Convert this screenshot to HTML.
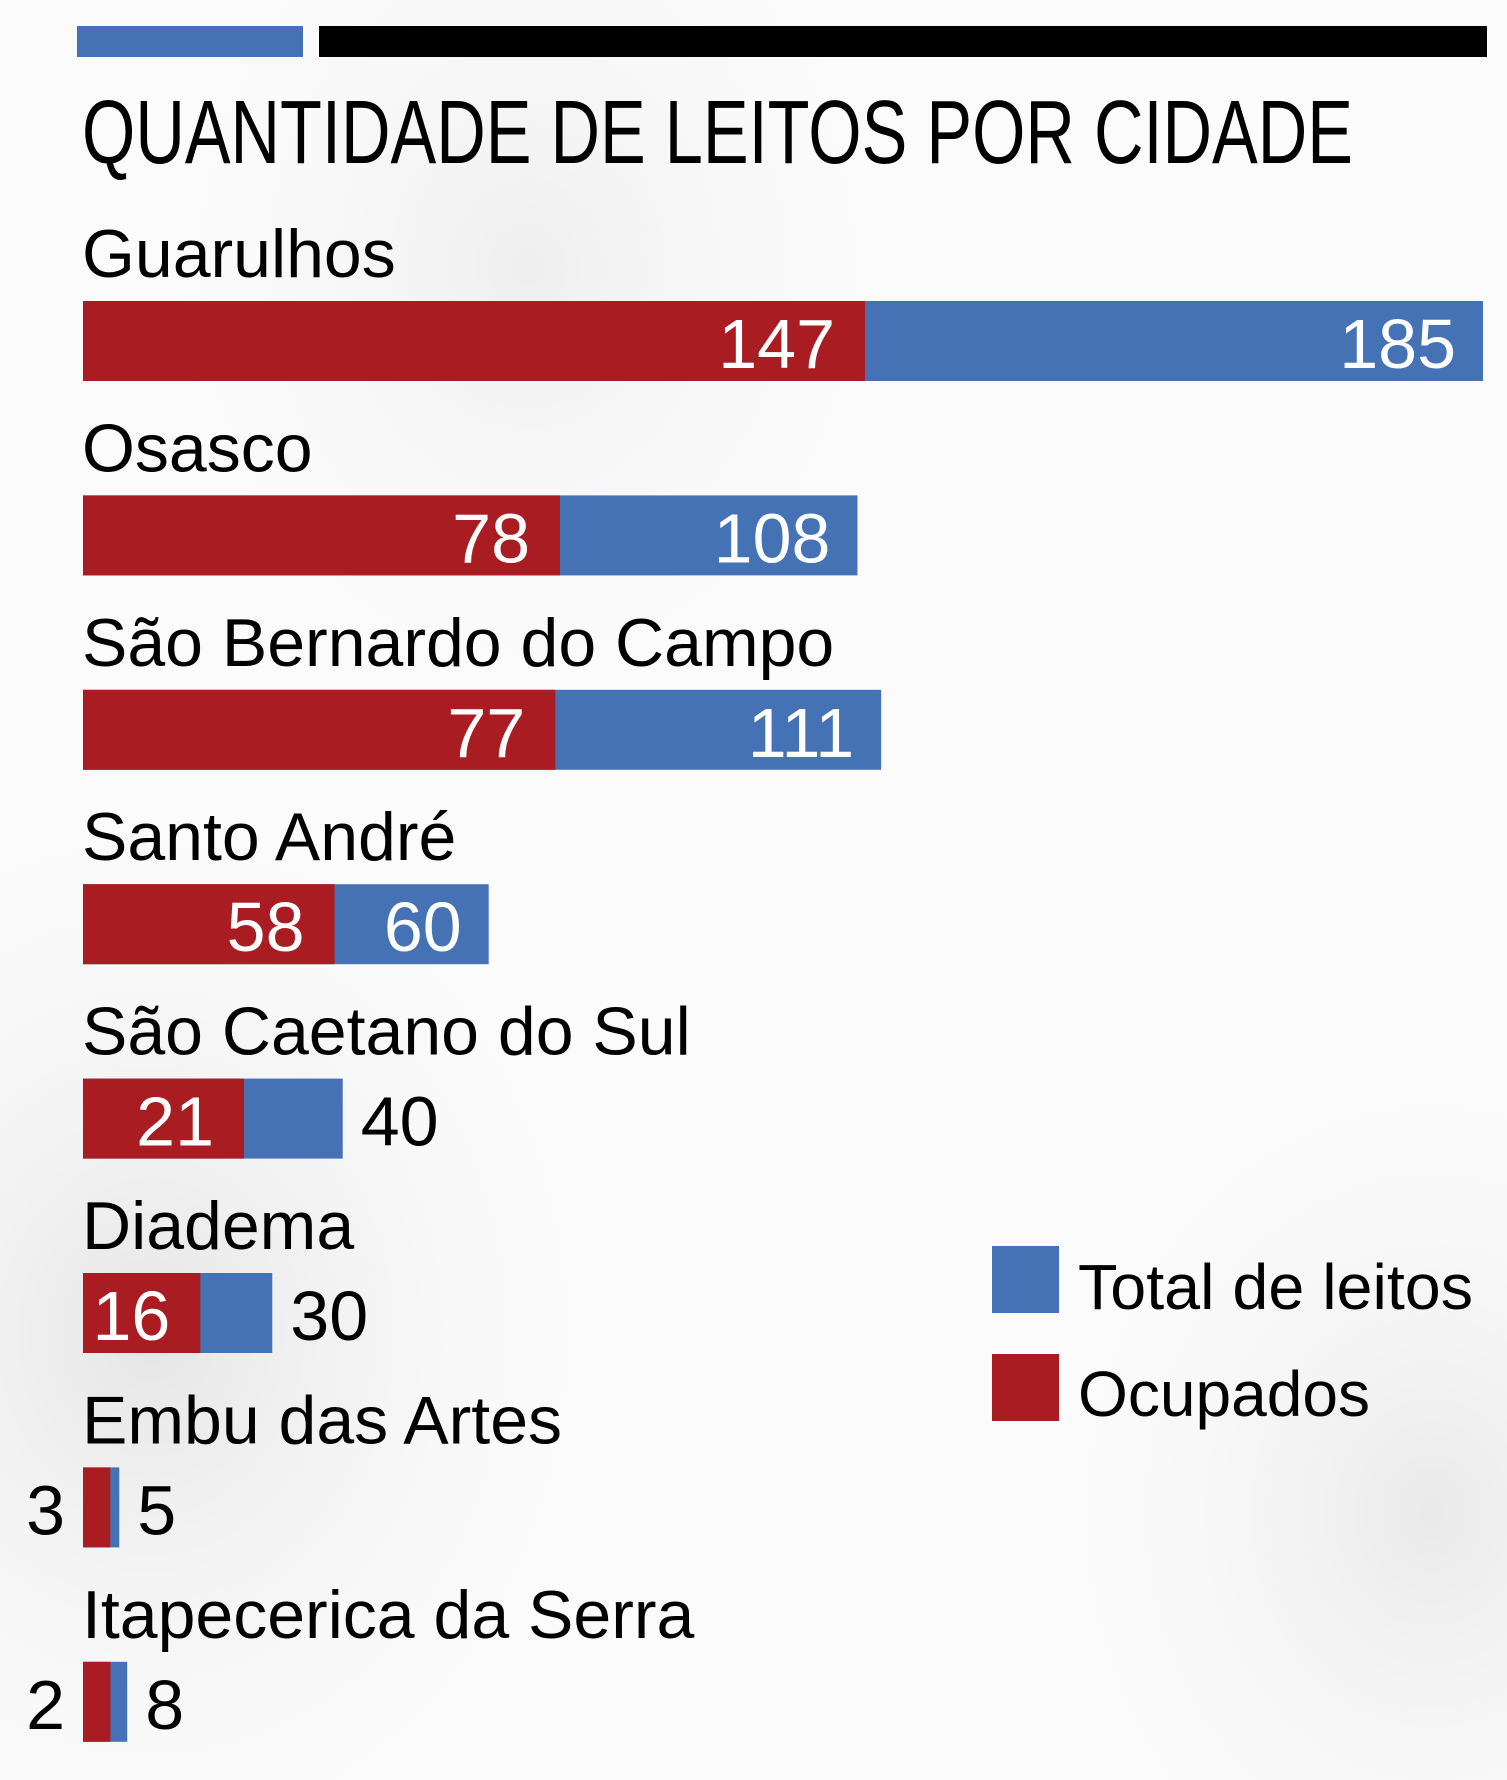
<!DOCTYPE html>
<html><head><meta charset="utf-8"><style>
html,body{margin:0;padding:0;background:#fff}
svg{display:block}
</style></head><body>
<svg id="chart" width="1507" height="1780" viewBox="0 0 1507 1780" xmlns="http://www.w3.org/2000/svg" font-family="'Liberation Sans', sans-serif">
<defs>
<radialGradient id="f1" cx="0.1" cy="0.75" r="0.35"><stop offset="0" stop-color="#dcdcdc" stop-opacity="0.7"/><stop offset="1" stop-color="#fff" stop-opacity="0"/></radialGradient>
<radialGradient id="f2" cx="0.95" cy="0.85" r="0.3"><stop offset="0" stop-color="#e2e2e2" stop-opacity="0.7"/><stop offset="1" stop-color="#fff" stop-opacity="0"/></radialGradient>
<radialGradient id="f3" cx="0.35" cy="0.15" r="0.3"><stop offset="0" stop-color="#e6e6e6" stop-opacity="0.6"/><stop offset="1" stop-color="#fff" stop-opacity="0"/></radialGradient>
</defs>
<rect width="1507" height="1780" fill="#fbfbfb"/>
<rect width="1507" height="1780" fill="url(#f1)"/>
<rect width="1507" height="1780" fill="url(#f2)"/>
<rect width="1507" height="1780" fill="url(#f3)"/>
<rect x="77" y="26" width="226" height="31" fill="#4472b4"/>
<rect x="319" y="26" width="1168" height="31" fill="#000"/>
<text x="82" y="163" font-size="90" textLength="1271" lengthAdjust="spacingAndGlyphs" fill="#000">QUANTIDADE DE LEITOS POR CIDADE</text>
<g>
<rect x="992" y="1246" width="67" height="67" fill="#4472b4"/>
<text x="1078" y="1309" font-size="64" textLength="395" lengthAdjust="spacingAndGlyphs" fill="#000">Total de leitos</text>
<rect x="992" y="1354" width="67" height="67" fill="#a81c22"/>
<text x="1078" y="1416" font-size="64" textLength="292" lengthAdjust="spacingAndGlyphs" fill="#000">Ocupados</text>
</g>
<g id="bars"></g>
</svg>
<script>
const cities = ["Guarulhos","Osasco","São Bernardo do Campo","Santo André","São Caetano do Sul","Diadema","Embu das Artes","Itapecerica da Serra"];
const occupied = [147,78,77,58,21,16,3,2];
const totals = [185,108,111,60,40,30,5,8];

const NS = "http://www.w3.org/2000/svg";
const x0 = 83;
const maxTotal = 185;
// axis functions (power scales fitted to the reference graphic)
function xTotal(v){ return 1400 * Math.pow(v / maxTotal, 1.1); }
function xOcc(v){ return 782 * Math.pow(v / 147, 0.78); }
function rowTop(i){ return 301 + 194.4 * i; }
const barH = 80;
const RED = "#a81c22", BLUE = "#4472b4";

const g = document.getElementById("bars");
function mk(tag, attrs){ const e = document.createElementNS(NS, tag); for (const k in attrs) e.setAttribute(k, attrs[k]); return e; }

cities.forEach((c, i) => {
  const top = rowTop(i);
  const lab = mk("text", {x: x0 - 1, y: top - 24, "font-size": 68, fill: "#000"});
  
  
  lab.textContent = c;
  g.appendChild(lab);

  const tRaw = xTotal(totals[i]);
  const rw = Math.min(xOcc(occupied[i]), 0.62 * Math.max(tRaw, 44));
  const tw = Math.max(tRaw, rw + 9);
  const blue = mk("rect", {x: x0, y: top, width: tw, height: barH, fill: BLUE});
  
  
  g.appendChild(blue);
  const red = mk("rect", {x: x0, y: top, width: rw, height: barH, fill: RED});
  
  
  g.appendChild(red);

  const by = top + 67;
  const ot = mk("text", {y: by, "font-size": 70});
  
  
  ot.textContent = occupied[i];
  if (rw > 80) { ot.setAttribute("x", x0 + rw - 30); ot.setAttribute("text-anchor", "end"); ot.setAttribute("fill", "#fff"); }
  else { ot.setAttribute("x", x0 - 18); ot.setAttribute("text-anchor", "end"); ot.setAttribute("fill", "#000"); }
  g.appendChild(ot);
  const tt = mk("text", {y: by, "font-size": 70});
  
  
  tt.textContent = totals[i];
  if (tw - rw > 140) { tt.setAttribute("x", x0 + tw - 27); tt.setAttribute("text-anchor", "end"); tt.setAttribute("fill", "#fff"); }
  else { tt.setAttribute("x", x0 + tw + 18); tt.setAttribute("fill", "#000"); }
  g.appendChild(tt);
});
</script>
</body></html>
